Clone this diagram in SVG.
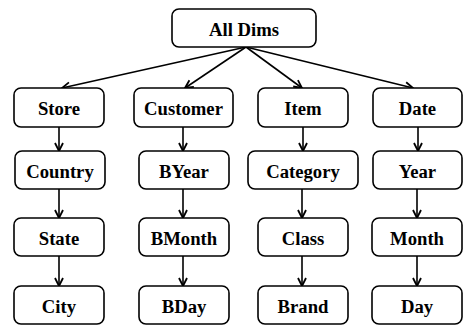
<svg xmlns="http://www.w3.org/2000/svg" width="463" height="325" viewBox="0 0 463 325">
<defs>
<marker id="ah" markerWidth="12" markerHeight="12" viewBox="0 0 12 12" refX="11" refY="6" orient="auto" markerUnits="userSpaceOnUse">
<path d="M3,2 L11,6 L3,10" fill="none" stroke="#000" stroke-width="1.8"/>
</marker>
<style>
rect{fill:#fff;stroke:#000;stroke-width:1.6}
text{font-family:"Liberation Serif","Times New Roman",serif;font-weight:bold;font-size:18.7px;text-anchor:middle;fill:#000}
line{stroke:#000;stroke-width:1.6;marker-end:url(#ah)}
</style>
</defs>
<g id="connectors">
<line x1="246" y1="47" x2="62" y2="88"/>
<line x1="246" y1="47" x2="185" y2="88"/>
<line x1="246" y1="47" x2="302" y2="88"/>
<line x1="246" y1="47" x2="413" y2="88"/>
<line x1="59" y1="127" x2="59" y2="151"/>
<line x1="183" y1="127" x2="183" y2="151"/>
<line x1="303" y1="127" x2="303" y2="151"/>
<line x1="418" y1="127" x2="418" y2="151"/>
<line x1="59" y1="189" x2="59" y2="218"/>
<line x1="183" y1="189" x2="183" y2="218"/>
<line x1="302" y1="189" x2="302" y2="218"/>
<line x1="417" y1="189" x2="417" y2="218"/>
<line x1="59" y1="256" x2="59" y2="286"/>
<line x1="183" y1="256" x2="183" y2="286"/>
<line x1="302" y1="256" x2="302" y2="286"/>
<line x1="417" y1="256" x2="417" y2="286"/>
</g>
<g id="alldims"><rect x="172" y="9" width="144" height="38" rx="7"/><text x="244" y="36">All Dims</text></g>
<g id="store"><rect x="14" y="88" width="90" height="39" rx="7"/><text x="59" y="115">Store</text></g>
<g id="customer"><rect x="134" y="88" width="99" height="39" rx="7"/><text x="183.5" y="115">Customer</text></g>
<g id="item"><rect x="258" y="88" width="90" height="39" rx="7"/><text x="303" y="115">Item</text></g>
<g id="date"><rect x="373" y="88" width="89" height="39" rx="7"/><text x="417.5" y="115">Date</text></g>
<g id="country"><rect x="15" y="151" width="90" height="38" rx="7"/><text x="60" y="178">Country</text></g>
<g id="byear"><rect x="139" y="151" width="90" height="38" rx="7"/><text x="184" y="178">BYear</text></g>
<g id="category"><rect x="248" y="151" width="110" height="38" rx="7"/><text x="303" y="178">Category</text></g>
<g id="year"><rect x="373" y="151" width="89" height="38" rx="7"/><text x="417.5" y="178">Year</text></g>
<g id="state"><rect x="14" y="218" width="90" height="38" rx="7"/><text x="59" y="245">State</text></g>
<g id="bmonth"><rect x="139" y="218" width="90" height="38" rx="7"/><text x="184" y="245">BMonth</text></g>
<g id="class"><rect x="258" y="218" width="90" height="38" rx="7"/><text x="303" y="245">Class</text></g>
<g id="month"><rect x="372" y="218" width="90" height="38" rx="7"/><text x="417" y="245">Month</text></g>
<g id="city"><rect x="14" y="286" width="90" height="38" rx="7"/><text x="59" y="313">City</text></g>
<g id="bday"><rect x="139" y="286" width="90" height="38" rx="7"/><text x="184" y="313">BDay</text></g>
<g id="brand"><rect x="258" y="286" width="90" height="38" rx="7"/><text x="303" y="313">Brand</text></g>
<g id="day"><rect x="372" y="286" width="90" height="38" rx="7"/><text x="417" y="313">Day</text></g>
</svg>
